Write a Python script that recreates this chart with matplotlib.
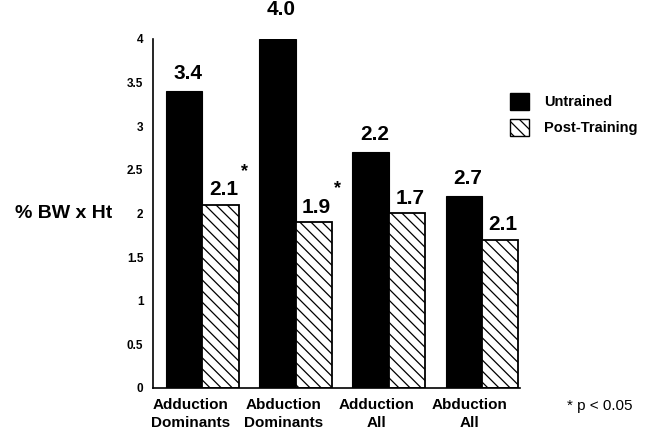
import matplotlib
matplotlib.use("Agg")
import matplotlib.pyplot as plt
from matplotlib.patches import Patch

categories = ["Adduction\nDominants", "Abduction\nDominants", "Adduction\nAll", "Abduction\nAll"]
untrained = [3.4, 4.0, 2.7, 2.2]
post_training = [2.1, 1.9, 2.0, 1.7]
untrained_labels = ["3.4", "4.0", "2.2", "2.7"]
post_labels = ["2.1", "1.9", "1.7", "2.1"]
post_sig = [True, True, False, False]
yticks = [0, 0.5, 1, 1.5, 2, 2.5, 3, 3.5, 4]
ytick_labels = ["0", "0.5", "1", "1.5", "2", "2.5", "3", "3.5", "4"]

plt.rcParams['font.family'] = ['Liberation Sans', 'DejaVu Sans']
plt.rcParams['hatch.linewidth'] = 0.9

fig = plt.figure(figsize=(6.46, 4.32), dpi=100)
ax = fig.add_axes([0.237, 0.102, 0.568, 0.808])

w = 0.39
x = list(range(len(categories)))
xb = [i - w / 2 for i in x]
xh = [i + w / 2 for i in x]
ax.bar(xb, untrained, width=w, color='black', edgecolor='black', linewidth=0.8)
ax.bar(xh, post_training, width=w, color='white', edgecolor='black',
       linewidth=1.3, hatch='\\\\\\')

label_off = [6, 14, 6, 6]
for i in x:
    ax.annotate(untrained_labels[i], (xb[i], untrained[i]), xytext=(3, label_off[i]),
                textcoords='offset points', ha='center', va='bottom',
                fontsize=15, fontweight='bold', annotation_clip=False)
    ax.annotate(post_labels[i], (xh[i], post_training[i]), xytext=(2, 4),
                textcoords='offset points', ha='center', va='bottom',
                fontsize=15, fontweight='bold', annotation_clip=False)
    if post_sig[i]:
        ax.annotate("*", (xh[i], post_training[i]), xytext=(17, 18),
                    textcoords='offset points', ha='center', va='bottom',
                    fontsize=13, fontweight='bold', annotation_clip=False)

ax.set_ylim(0, 4)
ax.set_xlim(-0.53, 3.41)
ax.set_yticks(yticks)
ax.set_yticklabels(ytick_labels, fontsize=8.5, fontweight='bold')
ax.tick_params(axis='y', length=0, pad=7)
ax.set_xticks([i - 0.13 for i in x])
ax.set_xticklabels(categories, fontsize=11, fontweight='bold', linespacing=1.35)
ax.tick_params(axis='x', length=0, pad=7)

for s in ['top', 'right']:
    ax.spines[s].set_visible(False)
for s in ['left', 'bottom']:
    ax.spines[s].set_linewidth(1.2)

fig.text(15 / 646, 1 - 213 / 432, "% BW x Ht", fontsize=14, fontweight='bold',
         ha='left', va='center')

handles = [Patch(facecolor='black', edgecolor='black', label='Untrained'),
           Patch(facecolor='white', edgecolor='black', hatch='\\\\\\', label='Post-Training')]
fig.legend(handles=handles, loc='upper left', bbox_to_anchor=(497 / 646, 1 - 80 / 432),
           frameon=False, prop={'size': 10.5, 'weight': 'bold'}, handlelength=1.3,
           handleheight=1.4, handletextpad=1.0, labelspacing=0.6)

fig.text(567 / 646, 1 - 406 / 432, "* p < 0.05", fontsize=11,
         ha='left', va='center')

fig.savefig("out.png", dpi=100)
